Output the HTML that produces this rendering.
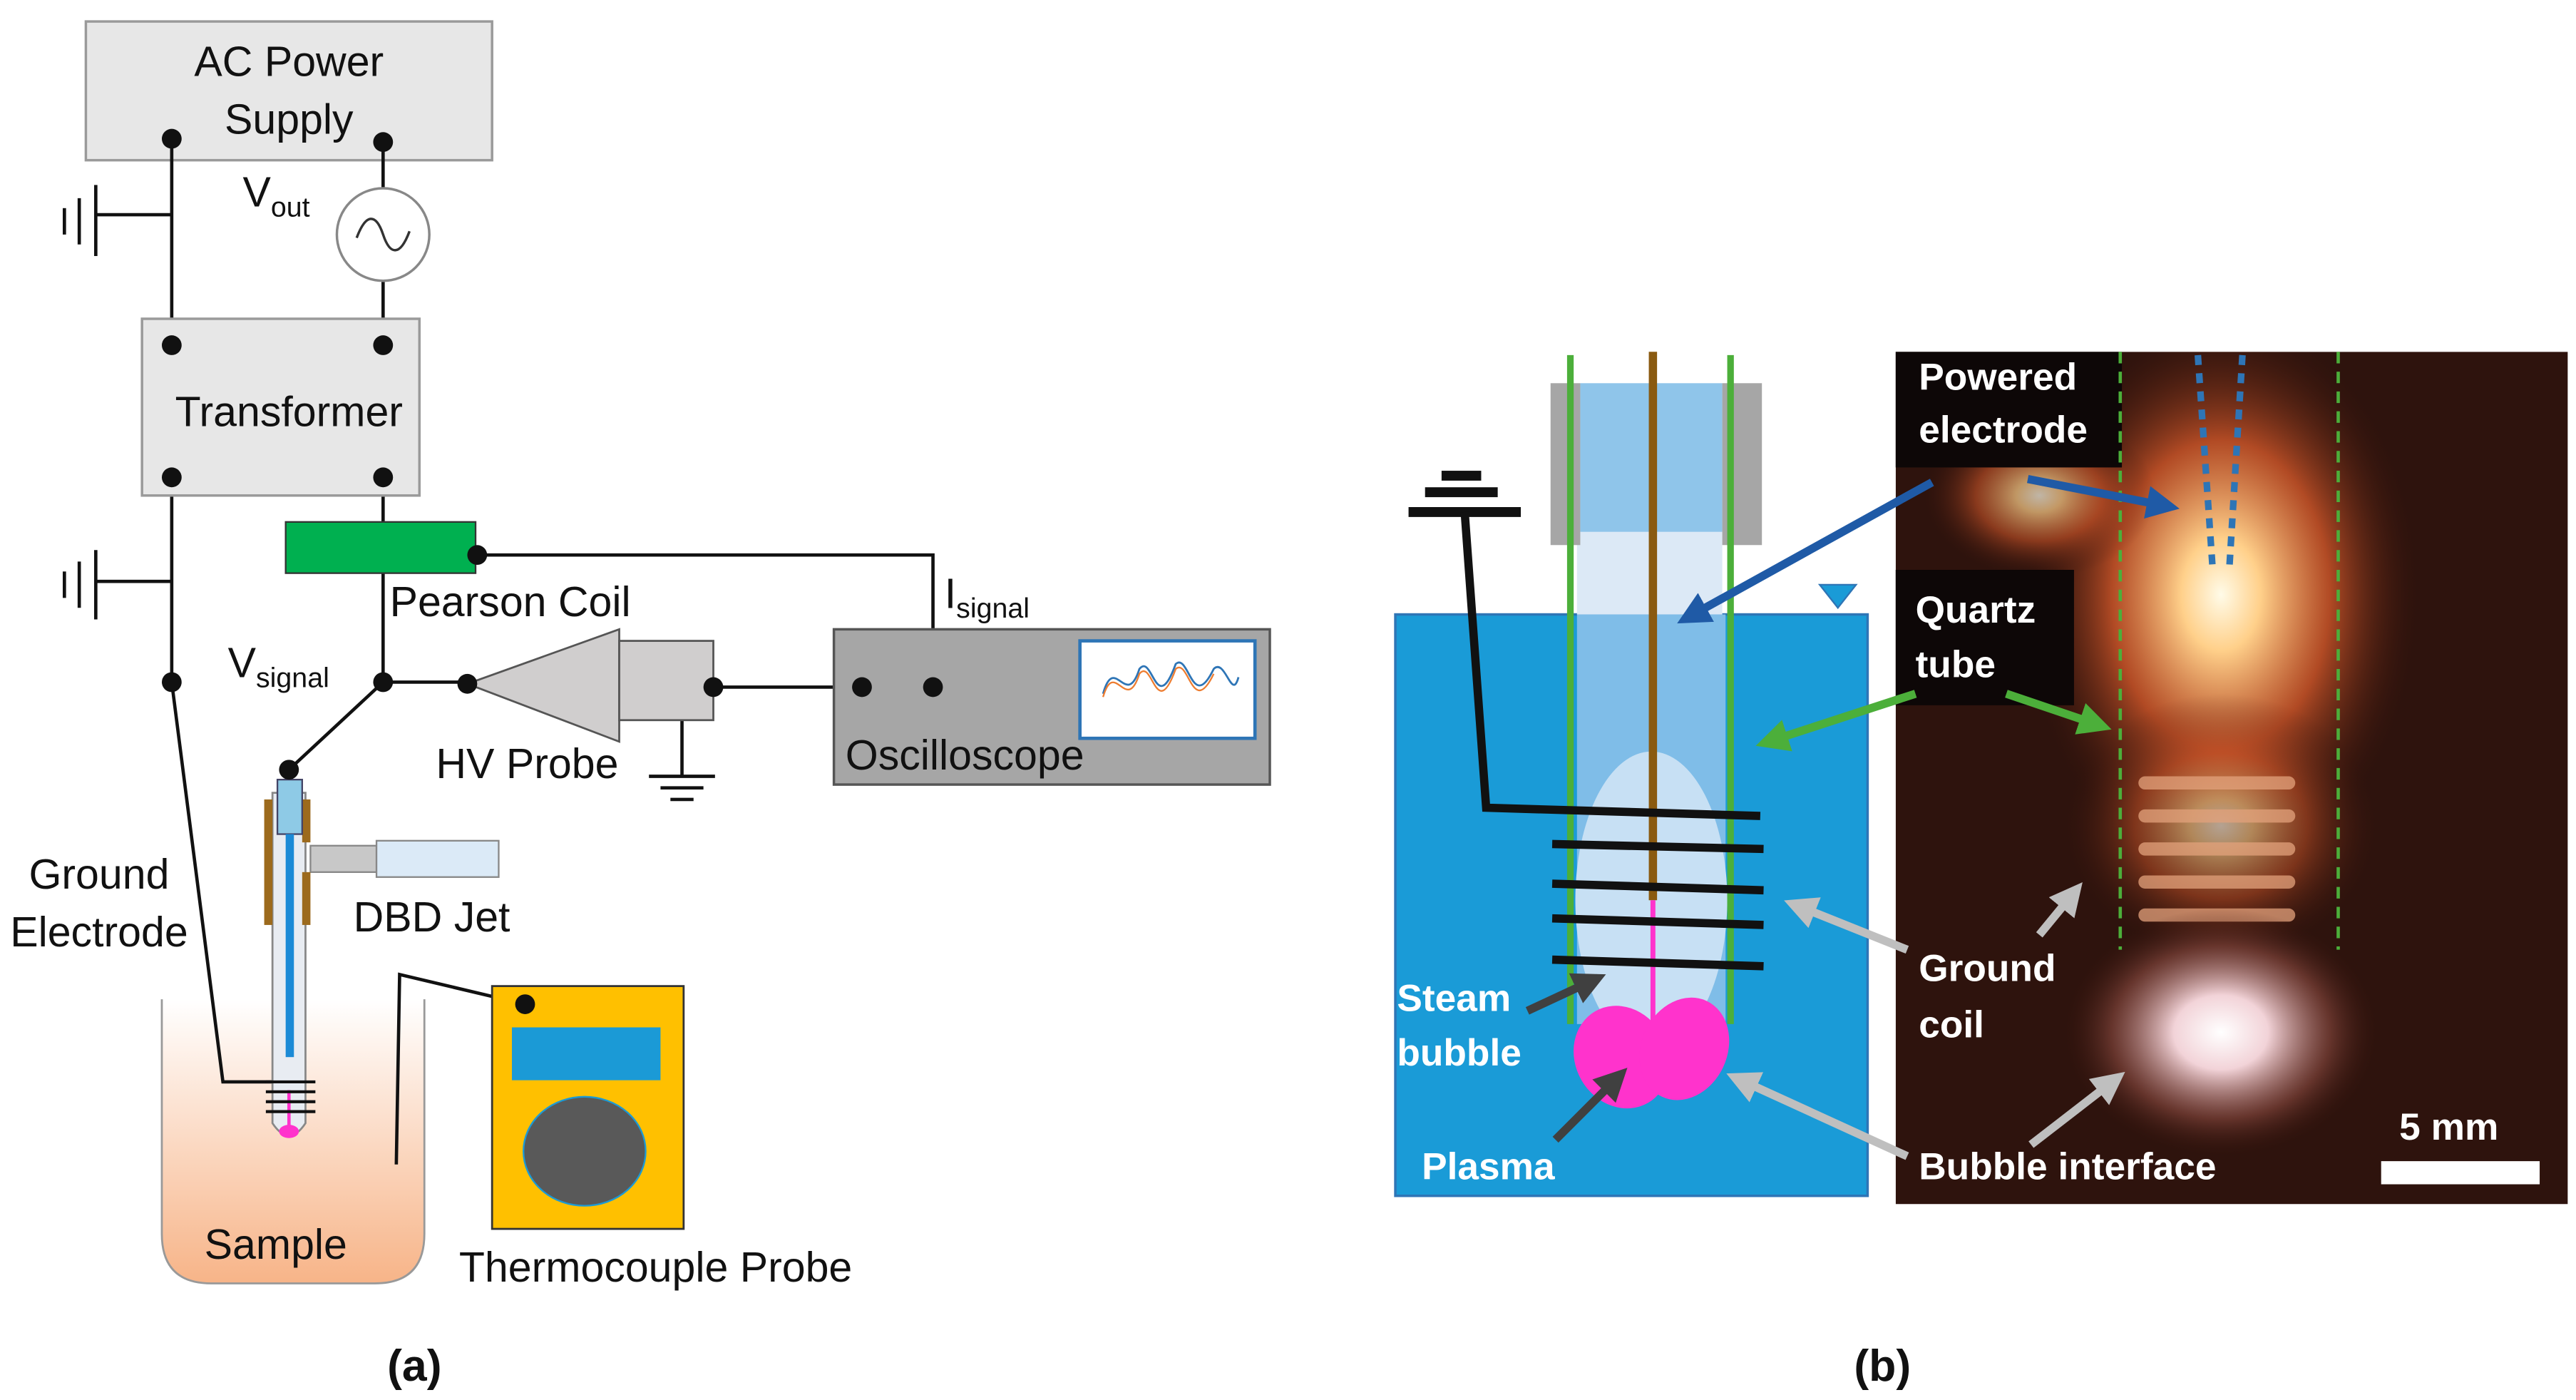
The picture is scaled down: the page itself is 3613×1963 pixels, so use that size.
<!DOCTYPE html>
<html><head><meta charset="utf-8"><style>
html,body{margin:0;padding:0;background:#fff}
svg{display:block}
text{font-family:"Liberation Sans",sans-serif}
.a{font-size:25.5px;fill:#111}
.b{font-size:23px;font-weight:bold;fill:#fff}
</style></head><body>
<svg width="3613" height="1963" viewBox="0 0 1560 847.6" preserveAspectRatio="none" xmlns="http://www.w3.org/2000/svg">
<defs>
<clipPath id="ph"><rect x="1148" y="213" width="407" height="516"/></clipPath>
<linearGradient id="smp" x1="0" y1="0" x2="0" y2="1"><stop offset="0" stop-color="#fff"/><stop offset="1" stop-color="#f7b488"/></linearGradient>
<radialGradient id="g1" cx="0.5" cy="0.5" r="0.5"><stop offset="0" stop-color="#fffbe8"/><stop offset="0.2" stop-color="#ffd08a"/><stop offset="0.55" stop-color="#d2582a" stop-opacity="0.8"/><stop offset="1" stop-color="#3a140c" stop-opacity="0"/></radialGradient>
<radialGradient id="g2" cx="0.5" cy="0.5" r="0.5"><stop offset="0" stop-color="#ffffff"/><stop offset="0.3" stop-color="#f2d3d8"/><stop offset="0.7" stop-color="#8a4a40" stop-opacity="0.6"/><stop offset="1" stop-color="#3a140c" stop-opacity="0"/></radialGradient>
<marker id="mb" markerWidth="4" markerHeight="4" refX="3" refY="2" orient="auto"><path d="M0,0 L4,2 L0,4 z" fill="#1f5aa6"/></marker>
<marker id="mg" markerWidth="4" markerHeight="4" refX="3" refY="2" orient="auto"><path d="M0,0 L4,2 L0,4 z" fill="#4caf3a"/></marker>
<marker id="ml" markerWidth="4" markerHeight="4" refX="3" refY="2" orient="auto"><path d="M0,0 L4,2 L0,4 z" fill="#bfbfbf"/></marker>
<marker id="md" markerWidth="4" markerHeight="4" refX="3" refY="2" orient="auto"><path d="M0,0 L4,2 L0,4 z" fill="#404040"/></marker>
</defs>

<!-- (a) -->
<path d="M98,605 L98,747 Q98,777 128,777 L227,777 Q257,777 257,747 L257,605" fill="url(#smp)" stroke="#999" stroke-width="1.2"/>
<text class="a" x="167" y="762" text-anchor="middle">Sample</text>
<rect x="52" y="13" width="246" height="84" fill="#e7e7e7" stroke="#9a9a9a" stroke-width="1.5"/>
<text class="a" x="175" y="46" text-anchor="middle">AC Power</text>
<text class="a" x="175" y="81" text-anchor="middle">Supply</text>
<g stroke="#111" stroke-width="2" fill="none">
<line x1="104" y1="84" x2="104" y2="209"/>
<line x1="58" y1="130" x2="104" y2="130"/>
<line x1="58" y1="112" x2="58" y2="155"/><line x1="48" y1="120" x2="48" y2="148"/><line x1="39" y1="126" x2="39" y2="142"/>
<line x1="232" y1="86" x2="232" y2="114"/><line x1="232" y1="170" x2="232" y2="209"/>
<line x1="104" y1="289" x2="104" y2="413"/>
<line x1="58" y1="352" x2="104" y2="352"/>
<line x1="58" y1="333" x2="58" y2="375"/><line x1="48" y1="340" x2="48" y2="368"/><line x1="39" y1="346" x2="39" y2="362"/>
<polyline points="104,413 135,655 175,655"/>
<line x1="232" y1="289" x2="232" y2="413"/>
<polyline points="289,336 565,336 565,416"/>
<line x1="232" y1="413" x2="283" y2="413"/>
<line x1="232" y1="413" x2="175" y2="466"/>
<line x1="432" y1="416" x2="522" y2="416"/>
<line x1="413" y1="436" x2="413" y2="470"/>
<line x1="393" y1="470" x2="433" y2="470"/><line x1="400" y1="477" x2="426" y2="477"/><line x1="406" y1="484" x2="420" y2="484"/>
<polyline points="240,705 242,590 318,608"/>
</g>
<circle cx="232" cy="142" r="28" fill="#fff" stroke="#888" stroke-width="1.5"/>
<path d="M216,144 C222,128 228,130 232,142 C236,154 242,156 248,140" fill="none" stroke="#333" stroke-width="1.5"/>
<text class="a" x="147" y="125">V<tspan font-size="17" dy="6">out</tspan></text>
<rect x="86" y="193" width="168" height="107" fill="#e7e7e7" stroke="#9a9a9a" stroke-width="1.5"/>
<text class="a" x="175" y="258" text-anchor="middle">Transformer</text>
<rect x="173" y="316" width="115" height="31" fill="#00b050" stroke="#333" stroke-width="1"/>
<text class="a" x="236" y="373">Pearson Coil</text>
<text class="a" x="138" y="410">V<tspan font-size="17" dy="6">signal</tspan></text>
<text class="a" x="572" y="368">I<tspan font-size="17" dy="6">signal</tspan></text>
<polygon points="283,414 375,381 375,449" fill="#d0cece" stroke="#555" stroke-width="1.2"/>
<rect x="375" y="388" width="57" height="48" fill="#d0cece" stroke="#555" stroke-width="1.2"/>
<text class="a" x="264" y="471">HV Probe</text>
<rect x="505" y="381" width="264" height="94" fill="#a6a6a6" stroke="#555" stroke-width="1.5"/>
<rect x="654" y="388" width="106" height="59" fill="#fff" stroke="#2e75b6" stroke-width="2"/>
<path d="M668,420 C675,395 682,430 690,405 C698,395 700,435 712,402 C720,395 722,432 735,405 C742,398 746,425 750,410" fill="none" stroke="#2e75b6" stroke-width="1.2"/>
<path d="M668,422 C675,398 682,433 690,408 C698,398 700,438 712,405 C720,398 722,435 735,408" fill="none" stroke="#ed7d31" stroke-width="1"/>
<text class="a" x="512" y="466">Oscilloscope</text>
<!-- DBD jet -->
<rect x="188" y="512" width="40" height="16" fill="#c8c8c8" stroke="#888"/>
<rect x="228" y="509" width="74" height="22" fill="#dbeaf7" stroke="#888"/>
<path d="M165,480 L165,680 Q175,695 185,680 L185,480 Z" fill="#e8ecf2" stroke="#888" stroke-width="1.2"/>
<rect x="160" y="484" width="5" height="76" fill="#9c6a1d"/>
<rect x="183" y="484" width="5" height="26" fill="#9c6a1d"/>
<rect x="183" y="528" width="5" height="32" fill="#9c6a1d"/>
<rect x="168" y="472" width="15" height="33" fill="#8ecae6" stroke="#446" stroke-width="1"/>
<rect x="173" y="505" width="5" height="135" fill="#1b8ad6"/>
<line x1="175" y1="660" x2="175" y2="685" stroke="#ff33cc" stroke-width="2"/>
<ellipse cx="175" cy="685" rx="6" ry="4" fill="#ff33cc"/>
<g stroke="#111" stroke-width="1.8"><line x1="161" y1="655" x2="191" y2="655"/><line x1="161" y1="661" x2="191" y2="661"/><line x1="161" y1="667" x2="191" y2="667"/><line x1="161" y1="673" x2="191" y2="673"/></g>
<text class="a" x="214" y="564">DBD Jet</text>
<text class="a" x="60" y="538" text-anchor="middle">Ground</text>
<text class="a" x="60" y="573" text-anchor="middle">Electrode</text>
<rect x="298" y="597" width="116" height="147" fill="#ffc000" stroke="#333" stroke-width="1.2"/>
<rect x="310" y="622" width="90" height="32" fill="#1b9ad6"/>
<ellipse cx="354" cy="697" rx="37" ry="33" fill="#595959" stroke="#1b9ad6" stroke-width="1"/>
<text class="a" x="278" y="776">Thermocouple Probe</text>
<g fill="#111">
<circle cx="104" cy="84" r="6"/><circle cx="232" cy="86" r="6"/>
<circle cx="104" cy="209" r="6"/><circle cx="232" cy="209" r="6"/>
<circle cx="104" cy="289" r="6"/><circle cx="232" cy="289" r="6"/>
<circle cx="104" cy="413" r="6"/><circle cx="232" cy="413" r="6"/>
<circle cx="289" cy="336" r="6"/><circle cx="283" cy="414" r="6"/>
<circle cx="432" cy="416" r="6"/><circle cx="522" cy="416" r="6"/>
<circle cx="565" cy="416" r="6"/><circle cx="175" cy="466" r="6"/>
<circle cx="318" cy="608" r="6"/>
</g>
<text x="251" y="836" text-anchor="middle" font-size="27" font-weight="bold" fill="#111">(a)</text>
<text x="1140" y="836" text-anchor="middle" font-size="27" font-weight="bold" fill="#111">(b)</text>

<!-- (b) schematic -->
<rect x="845" y="372" width="286" height="352" fill="#1a9bd7" stroke="#2e75b6" stroke-width="1.5"/>
<rect x="955" y="322" width="88" height="50" fill="#dce9f6"/>
<rect x="955" y="372" width="90" height="248" fill="#7fbde8"/>
<ellipse cx="1000" cy="545" rx="46" ry="90" fill="#c7e0f4"/>
<rect x="957" y="232" width="86" height="90" fill="#8fc5ea"/>
<rect x="939" y="232" width="18" height="98" fill="#a6a6a6"/>
<rect x="1043" y="232" width="24" height="98" fill="#a6a6a6"/>
<line x1="951" y1="215" x2="951" y2="620" stroke="#4caf3a" stroke-width="4"/>
<line x1="1048" y1="215" x2="1048" y2="620" stroke="#4caf3a" stroke-width="4"/>
<line x1="1001" y1="213" x2="1001" y2="545" stroke="#8a5a10" stroke-width="5"/>
<line x1="1001" y1="545" x2="1001" y2="630" stroke="#ff33cc" stroke-width="3"/>
<ellipse cx="982" cy="640" rx="28" ry="32" fill="#ff33cc" transform="rotate(-30 982 640)"/>
<ellipse cx="1020" cy="635" rx="26" ry="32" fill="#ff33cc" transform="rotate(25 1020 635)"/>
<polygon points="1102,354 1124,354 1113,368" fill="#1a9bd7" stroke="#2e75b6"/>
<rect x="873" y="285" width="24" height="6" fill="#111"/>
<rect x="863" y="295" width="44" height="6" fill="#111"/>
<rect x="853" y="307" width="68" height="6" fill="#111"/>
<polyline points="887,310 900,489 1066,494" fill="none" stroke="#111" stroke-width="5"/>
<g stroke="#111" stroke-width="5"><line x1="940" y1="511" x2="1068" y2="514"/><line x1="940" y1="535" x2="1068" y2="539"/><line x1="940" y1="556" x2="1068" y2="560"/><line x1="940" y1="581" x2="1068" y2="585"/></g>
<text class="b" x="846" y="612">Steam</text>
<text class="b" x="846" y="645">bubble</text>
<text class="b" x="861" y="714">Plasma</text>
<line x1="925" y1="612" x2="968" y2="592" stroke="#404040" stroke-width="5" marker-end="url(#md)"/>
<line x1="942" y1="690" x2="982" y2="650" stroke="#404040" stroke-width="5" marker-end="url(#md)"/>

<!-- photo -->
<g clip-path="url(#ph)">
<rect x="1148" y="213" width="407" height="516" fill="#2e130d"/>
<ellipse cx="1345" cy="360" rx="120" ry="170" fill="url(#g1)"/>
<ellipse cx="1235" cy="300" rx="70" ry="50" fill="url(#g1)" opacity="0.7"/>
<ellipse cx="1345" cy="500" rx="95" ry="80" fill="url(#g1)" opacity="0.6"/>
<g fill="#e3a27c" opacity="0.75">
<rect x="1295" y="470" width="95" height="8" rx="4"/><rect x="1295" y="490" width="95" height="8" rx="4"/><rect x="1295" y="510" width="95" height="8" rx="4"/><rect x="1295" y="530" width="95" height="8" rx="4"/><rect x="1295" y="550" width="95" height="8" rx="4"/>
</g>
<ellipse cx="1345" cy="625" rx="95" ry="75" fill="url(#g2)"/>
</g>
<rect x="1148" y="213" width="137" height="70" fill="#0d0707"/>
<rect x="1148" y="345" width="108" height="82" fill="#0d0707"/>
<line x1="1284" y1="213" x2="1284" y2="575" stroke="#4caf3a" stroke-width="2" stroke-dasharray="7,5"/>
<line x1="1416" y1="213" x2="1416" y2="575" stroke="#4caf3a" stroke-width="2" stroke-dasharray="7,5"/>
<line x1="1331" y1="215" x2="1340" y2="345" stroke="#2e75b6" stroke-width="4" stroke-dasharray="6,5"/>
<line x1="1358" y1="215" x2="1350" y2="345" stroke="#2e75b6" stroke-width="4" stroke-dasharray="6,5"/>
<text class="b" x="1162" y="236">Powered</text>
<text class="b" x="1162" y="268">electrode</text>
<text class="b" x="1160" y="377">Quartz</text>
<text class="b" x="1160" y="410">tube</text>
<text class="b" x="1162" y="594">Ground</text>
<text class="b" x="1162" y="628">coil</text>
<text class="b" x="1162" y="714">Bubble interface</text>
<text class="b" x="1453" y="690">5 mm</text>
<rect x="1442" y="703" width="96" height="14" fill="#fff"/>
<line x1="1170" y1="292" x2="1020" y2="375" stroke="#1f5aa6" stroke-width="5" marker-end="url(#mb)"/>
<line x1="1228" y1="290" x2="1315" y2="307" stroke="#1f5aa6" stroke-width="5" marker-end="url(#mb)"/>
<line x1="1160" y1="420" x2="1068" y2="450" stroke="#4caf3a" stroke-width="5" marker-end="url(#mg)"/>
<line x1="1215" y1="420" x2="1274" y2="440" stroke="#4caf3a" stroke-width="5" marker-end="url(#mg)"/>
<line x1="1155" y1="575" x2="1085" y2="547" stroke="#bfbfbf" stroke-width="5" marker-end="url(#ml)"/>
<line x1="1235" y1="566" x2="1258" y2="538" stroke="#bfbfbf" stroke-width="5" marker-end="url(#ml)"/>
<line x1="1155" y1="700" x2="1050" y2="652" stroke="#bfbfbf" stroke-width="5" marker-end="url(#ml)"/>
<line x1="1230" y1="693" x2="1283" y2="652" stroke="#bfbfbf" stroke-width="5" marker-end="url(#ml)"/>
</svg>
</body></html>
